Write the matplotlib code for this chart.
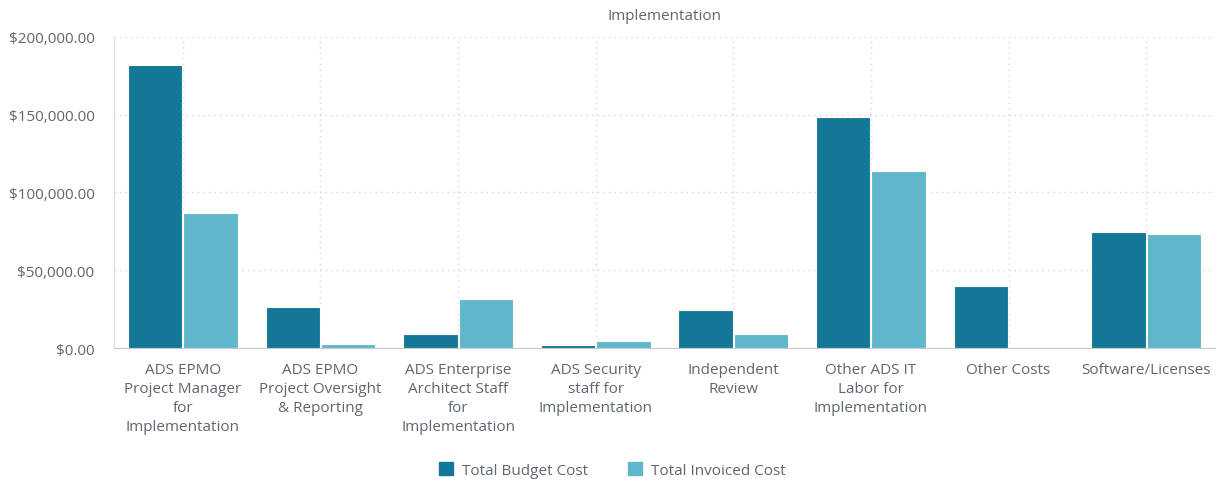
import matplotlib.pyplot as plt
import numpy as np
from matplotlib.ticker import FuncFormatter, MultipleLocator
from matplotlib.patches import Patch

plt.rcParams['font.family'] = ['Open Sans', 'DejaVu Sans']

categories = ['ADS EPMO\nProject Manager\nfor\nImplementation',
              'ADS EPMO\nProject Oversight\n& Reporting',
              'ADS Enterprise\nArchitect Staff\nfor\nImplementation',
              'ADS Security\nstaff for\nImplementation',
              'Independent\nReview',
              'Other ADS IT\nLabor for\nImplementation',
              'Other Costs',
              'Software/Licenses']
budget = [182000, 26400, 9000, 1800, 24400, 148500, 39900, 74600]
invoiced = [86800, 2600, 31500, 4500, 9000, 113800, 0, 73300]

c_budget = '#137898'
c_invoiced = '#60b7cb'
txt = '#5f6670'

fig = plt.figure(figsize=(12.25, 4.85), dpi=100)
ax = fig.add_axes([114/1225, 1-349/485, 1101/1225, 311/485])

x = np.arange(len(categories))
w = 0.395
ax.bar(x - w/2 - 0.004, budget, w, color=c_budget, edgecolor='white', linewidth=0.8,
       label='Total Budget Cost', zorder=3)
ax.bar(x + w/2 + 0.004, invoiced, w, color=c_invoiced, edgecolor='white', linewidth=0.8,
       label='Total Invoiced Cost', zorder=3)

ax.set_xlim(-0.5, len(categories) - 0.5)
ax.set_ylim(0, 200000)
ax.yaxis.set_major_locator(MultipleLocator(50000))
ax.yaxis.set_major_formatter(FuncFormatter(lambda v, p: '${:,.2f}'.format(v)))
ax.set_xticks(x)
ax.set_xticklabels(categories, linespacing=1.38)

ax.grid(True, color='#d5d5d5', linestyle=(0, (1, 3)), linewidth=1, zorder=0)
for s in ['top', 'right']:
    ax.spines[s].set_visible(False)
ax.spines['left'].set_color('#dddddd')
ax.spines['bottom'].set_color('#c8c8c8')
ax.tick_params(length=0, labelsize=11, colors=txt, pad=10)
ax.tick_params(axis='y', pad=14)

ax.set_title('Implementation', fontsize=11, color=txt, pad=13)

handles = [Patch(color=c_budget, label='Total Budget Cost'),
           Patch(color=c_invoiced, label='Total Invoiced Cost')]
fig.legend(handles=handles, loc='center', bbox_to_anchor=(0.5, 1-471/485), ncol=2,
           frameon=False, fontsize=11, labelcolor=txt, handlelength=0.9,
           handleheight=0.9, handletextpad=0.6, columnspacing=2.6)

fig.savefig('out.png', dpi=100)
